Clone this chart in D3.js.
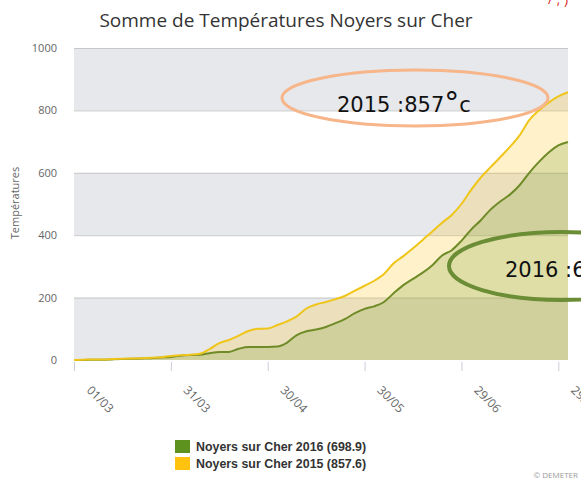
<!DOCTYPE html>
<html>
<head>
<meta charset="utf-8">
<script src="https://cdn.jsdelivr.net/npm/d3@7"></script>
<style>
  body { margin: 0; background: #fff; }
  svg { display: block; font-family: "Open Sans", "Liberation Sans", sans-serif; }
</style>
</head>
<body>
<div id="container"></div>
<script>
// data declaration
const w = 581;
const h = 479;
const margin = {top: 48, right: 13, bottom: 119, left: 74};

// days counted from 01/03
const days = [0,3,6,9,12,15,18,21,24,27,30,33,36,39,42,45,48,51,54,57,60,63,66,69,72,75,78,81,84,87,90,93,96,99,102,105,108,111,114,117,120,123,126,129,132,135,138,141,144,147,150,153];
const sum2015 = [0,1,2,2,3,4,5,6,7,9,13,15,17,20,35,54,64,78,93,100,101,112,124,140,165,178,186,195,206,222,238,254,276,310,333,358,385,412,440,465,500,545,585,618,650,683,720,769,800,825,845,858];
const sum2016 = [0,0,1,1,2,3,4,5,6,8,10,14,16,17,22,26,26,36,42,42,42,43,56,80,92,98,106,118,132,150,164,172,186,214,240,260,280,304,335,352,382,418,448,482,508,530,560,600,635,665,688,699];

const tickDays = [0, 30, 60, 90, 120, 150];
const tickLabels = ["01/03", "31/03", "30/04", "30/05", "29/06", "29/07"];
const yTicks = [0, 200, 400, 600, 800, 1000];

const seriesNames = ["Noyers sur Cher 2016 (698.9)", "Noyers sur Cher 2015 (857.6)"];
const seriesColors = ["#5e921f", "#ffc20e"];
const lineColors = ["#6f8b27", "#f0c51a"];

const svg = d3.select("#container").append("svg").attr("width", w).attr("height", h);

// scales
const xScale = d3.scaleLinear().domain([0, 153]).range([margin.left, w - margin.right]);
const yScale = d3.scaleLinear().domain([0, 1000]).range([h - margin.bottom, margin.top]);

// title
svg.append("text")
  .attr("x", 286).attr("y", 27)
  .attr("text-anchor", "middle")
  .style("font-size", "19px")
  .style("fill", "#333")
  .text("Somme de Températures Noyers sur Cher");

// red fragment cut off at top right
svg.append("text")
  .attr("x", 548).attr("y", 4)
  .style("font-size", "14px")
  .style("fill", "#d9302c")
  .text("/ ; )");

// alternate bands
const bands = [[0, 200], [400, 600], [800, 1000]];
svg.append("g").selectAll("rect")
  .data(bands)
  .enter()
  .append("rect")
  .attr("x", xScale(0))
  .attr("y", d => yScale(d[1]))
  .attr("width", xScale(153) - xScale(0))
  .attr("height", d => yScale(d[0]) - yScale(d[1]))
  .style("fill", "#e6e8ec");

// grid lines
svg.append("g").selectAll("line")
  .data(yTicks.slice(1))
  .enter()
  .append("line")
  .attr("x1", xScale(0)).attr("x2", xScale(153))
  .attr("y1", d => yScale(d) + 0.5).attr("y2", d => yScale(d) + 0.5)
  .style("stroke", "#c8c8c8");

// areas
const area = vals => d3.area()
  .x((d, i) => xScale(days[i]))
  .y0(yScale(0))
  .y1((d, i) => yScale(vals[i]))
  .curve(d3.curveMonotoneX)(vals);
const line = vals => d3.line()
  .x((d, i) => xScale(days[i]))
  .y((d, i) => yScale(vals[i]))
  .curve(d3.curveMonotoneX)(vals);

svg.append("path").attr("d", area(sum2015)).style("fill", seriesColors[1]).style("opacity", 0.22);
svg.append("path").attr("d", area(sum2016)).style("fill", seriesColors[0]).style("opacity", 0.2);
svg.append("path").attr("d", line(sum2016)).style("fill", "none").style("stroke", lineColors[0]).style("stroke-width", 2);
svg.append("path").attr("d", line(sum2015)).style("fill", "none").style("stroke", lineColors[1]).style("stroke-width", 2);

// y axis labels
svg.append("g").selectAll("text")
  .data(yTicks)
  .enter()
  .append("text")
  .attr("x", 57)
  .attr("y", d => yScale(d) + 4)
  .attr("text-anchor", "end")
  .style("font-size", "11px")
  .style("fill", "#666")
  .text(d => d);

svg.append("text")
  .attr("transform", "translate(19, 203) rotate(-90)")
  .attr("text-anchor", "middle")
  .style("font-size", "11px")
  .style("fill", "#666")
  .text("Températures");

// x axis ticks and labels
const xg = svg.append("g");
xg.selectAll("line")
  .data(tickDays)
  .enter()
  .append("line")
  .attr("x1", d => xScale(d) + 0.5).attr("x2", d => xScale(d) + 0.5)
  .attr("y1", yScale(0) + 2).attr("y2", yScale(0) + 11)
  .style("stroke", "#ccd");
xg.selectAll("text")
  .data(tickDays)
  .enter()
  .append("text")
  .attr("transform", d => "translate(" + (xScale(d) + 12) + "," + (yScale(0) + 31) + ") rotate(45)")
  .style("font-size", "12px")
  .style("fill", "#666")
  .text((d, i) => tickLabels[i]);

// annotations
svg.append("ellipse")
  .attr("cx", 415).attr("cy", 98).attr("rx", 133).attr("ry", 28)
  .style("fill", "none").style("stroke", "#f7b58a").style("stroke-width", 3);
const t1 = svg.append("text")
  .attr("x", 337).attr("y", 112)
  .style("font-family", "DejaVu Sans, Verdana, sans-serif")
  .style("font-size", "21px")
  .style("fill", "#111");
t1.append("tspan").text("2015 :857");
t1.append("tspan").style("font-size", "30px").attr("dy", "1").text("°");
t1.append("tspan").attr("dy", "-1").text("c");

svg.append("ellipse")
  .attr("cx", 562).attr("cy", 266).attr("rx", 113).attr("ry", 34)
  .style("fill", "none").style("stroke", "#6a8d35").style("stroke-width", 4);
svg.append("text")
  .attr("x", 505).attr("y", 277)
  .style("font-family", "DejaVu Sans, Verdana, sans-serif")
  .style("font-size", "21px")
  .style("fill", "#111")
  .text("2016 :699°c");

// legend
const legend = svg.append("g");
legend.selectAll("rect")
  .data(seriesNames)
  .enter()
  .append("rect")
  .attr("x", 175)
  .attr("y", (d, i) => 440 + i * 17)
  .attr("width", 15).attr("height", 13)
  .style("fill", (d, i) => seriesColors[i]);
legend.selectAll("text")
  .data(seriesNames)
  .enter()
  .append("text")
  .attr("x", 196)
  .attr("y", (d, i) => 451 + i * 17)
  .style("font-family", "Liberation Sans, sans-serif")
  .style("font-weight", "bold")
  .style("font-size", "12.4px")
  .style("fill", "#333")
  .text(d => d);

svg.append("text")
  .attr("x", 578).attr("y", 478)
  .attr("text-anchor", "end")
  .style("font-size", "8px")
  .style("fill", "#999")
  .text("© DEMETER");
</script>
</body>
</html>
